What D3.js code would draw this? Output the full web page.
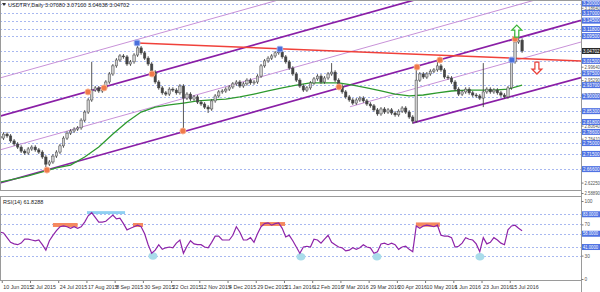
<!DOCTYPE html>
<html><head><meta charset="utf-8">
<script src="https://cdn.jsdelivr.net/npm/d3@7"></script>
<style>body{margin:0;background:#fff}svg{display:block;font-family:"Liberation Sans",Arial,sans-serif}</style>
</head><body><svg id="c" width="600" height="292"></svg>
<script>
// ---- data (price closes every 2 daily bars) ----
const closes=[2.766,2.779,2.773,2.757,2.747,2.737,2.724,2.718,2.731,2.737,
2.728,2.721,2.705,2.682,2.689,2.708,2.721,2.741,2.766,2.782,
2.789,2.795,2.799,2.824,2.850,2.889,2.921,2.928,2.918,2.928,
2.947,2.973,2.999,3.018,3.031,3.028,3.005,3.012,3.034,3.057,
3.041,3.024,3.005,2.979,2.947,2.928,2.912,2.908,2.924,2.921,
2.912,2.934,2.895,2.908,2.892,2.899,2.882,2.876,2.866,2.860,
2.886,2.902,2.915,2.918,2.924,2.931,2.941,2.947,2.934,2.941,
2.953,2.944,2.947,2.966,2.999,3.015,3.024,3.031,3.041,3.044,
3.028,3.012,2.992,2.973,2.953,2.934,2.921,2.928,2.944,2.957,
2.966,2.947,2.960,2.973,2.979,2.953,2.934,2.915,2.899,2.889,
2.879,2.889,2.895,2.886,2.876,2.870,2.857,2.844,2.860,2.850,
2.857,2.847,2.841,2.853,2.863,2.850,2.834,2.821,2.953,2.973,
2.963,2.973,2.982,2.986,2.999,2.986,2.963,2.960,2.947,2.924,
2.908,2.915,2.924,2.912,2.905,2.902,2.895,2.915,2.924,2.915,
2.921,2.912,2.905,2.899,2.928,3.012,3.076,3.082,3.047];
// [point index, high, low] for long wicks
const spikes=[[13,null,2.663],[26,3.012,null],[39,3.073,null],[52,null,2.789],[59,null,2.847],
[79,3.053,null],[94,3.008,null],[117,null,2.812],[118,2.995,null],[124,3.018,null],[137,3.008,2.866],[146,3.105,null]];
// moving average, one value every 8 bars
const maValues=[2.624,2.634,2.644,2.657,2.670,2.679,2.705,2.737,2.779,2.818,
2.850,2.866,2.873,2.879,2.886,2.889,2.892,2.899,2.908,2.918,
2.928,2.937,2.944,2.944,2.944,2.937,2.928,2.918,2.908,2.902,
2.905,2.912,2.918,2.921,2.921,2.921,2.924,2.937];
// RSI(14), every 2 bars
const rsiValues=[60,59,53,47,45,44,46,51,51,50,
49,50,44,37,49,56,62,67,68,67,
65,67,65,67,73,81,85,79,73,73,
74,78,82,77,78,71,63,65,67,69,
67,58,44,33,37,44,38,40,41,40,
46,50,33,42,49,45,44,44,41,40,
47,55,55,50,50,50,56,67,60,50,
50,53,47,58,67,71,72,69,71,72,
65,54,56,49,41,33,41,42,41,51,
50,46,51,56,47,44,41,40,36,37,
40,38,40,44,41,40,33,35,45,46,
44,46,44,38,41,42,38,35,68,65,
68,69,68,67,69,56,55,55,53,41,
42,46,53,51,50,45,35,53,45,47,
53,50,46,44,63,68,69,65,62];
const levels=[3.200,3.170,3.145,3.118,3.095,3.015,2.975,2.937,2.900,2.853,2.818,2.786,2.750,2.715,2.666];
const scaleTicks=[3.18640,2.99640,2.95290,2.90570,2.80640,2.76410,2.62250,2.58890];
const currentPrice=3.04702;
const dateLabels=["10 Jun 2015","2 Jul 2015","24 Jul 2015","17 Aug 2015","8 Sep 2015","30 Sep 2015","22 Oct 2015","12 Nov 2015","4 Dec 2015","29 Dec 2015","21 Jan 2016","12 Feb 2016","7 Mar 2016","29 Mar 2016","20 Apr 2016","10 May 2016","1 Jun 2016","23 Jun 2016","15 Jul 2016"];
const dateBars=dateLabels.map((d,i)=>1+16*i);
// trend lines [bar0, price0, bar1, price1, kind]
const trendLines=[[0,2.960,329.4,3.485,"thin"],[0,2.837,329.4,3.362,"thick"],[0,2.728,329.4,3.253,"thin"],
[0,2.621,329.4,3.146,"thick"],[198.4,2.867,329.4,3.076,"thin"],[234.1,2.815,329.4,2.961,"thick"],[77.7,3.073,329.4,3.015,"red"]];
const orangeDots=[[26.6,2.663],[49.9,2.915],[59,2.928],[86.2,2.973],[103.7,2.789],[192.2,2.931],[236.4,2.995],[249.4,3.018],[292,3.086]];
const blueDots=[[77.7,3.073],[158.7,3.053],[290.2,3.018]];
const upArrow=[293,3.111], downArrow=[304.4,2.992];
const rsiLevels=[83,58,41], rsiGrid=[70,30], rsiAxisTicks=[100,70,30,0];
const rsiBars=[[30,44,71.8,66.7,"o"],[49.3,70.9,87,83.3,"b"],[75.4,81.1,71.8,66.7,"o"],[147.4,161.6,73,68,"o"],[235.8,249.4,72.5,67,"o"]];
const rsiCircles=[[86.7,29.5],[170.6,28.5],[213.7,28.5],[272.1,28.5]];

// ---- drawing ----
const PR=581;
const svg=d3.select('#c');
const x=d3.scaleLinear().domain([0,329.4]).range([0,PR]);
const y=d3.scaleLinear().domain([2.5986,3.2115]).range([190,0]);
const yr=d3.scaleLinear().domain([0,100]).range([279,201]);
const defs=svg.append('defs');
defs.append('clipPath').attr('id','cm').append('rect').attr('x',0).attr('y',1).attr('width',PR).attr('height',189);
defs.append('clipPath').attr('id','cr').append('rect').attr('x',0).attr('y',197).attr('width',PR).attr('height',84);
const gm=svg.append('g').attr('clip-path','url(#cm)');
const gr=svg.append('g').attr('clip-path','url(#cr)');
const gridCol="#a8b8f0";
// level lines
gm.selectAll('line.lv').data(levels.concat([currentPrice])).join('line')
 .attr('x1',0).attr('x2',PR).attr('y1',d=>Math.round(y(d))+0.5).attr('y2',d=>Math.round(y(d))+0.5)
 .attr('stroke',gridCol).attr('stroke-dasharray','2,2');
// trend lines
const styles={thin:["#c892d8",1],thick:["#8a1fa6",1.7],red:["#f0413a",1.5]};
gm.selectAll('line.tl').data(trendLines).join('line')
 .attr('x1',d=>x(d[0])).attr('y1',d=>y(d[1])).attr('x2',d=>x(d[2])).attr('y2',d=>y(d[3]))
 .attr('stroke',d=>styles[d[4]][0]).attr('stroke-width',d=>styles[d[4]][1]);
// MA
gm.append('path').datum(maValues).attr('fill','none').attr('stroke','#2e9a2e').attr('stroke-width',1.3)
 .attr('d',d3.line().x((d,j)=>x(8*j)).y(d=>y(d)));
// candles
const spk={}; spikes.forEach(s=>spk[s[0]]=s);
const candles=closes.map((c,k)=>{const o=k>0?closes[k-1]:c+0.005;let h=Math.max(o,c)+0.006,l=Math.min(o,c)-0.006;
 if(spk[k]){if(spk[k][1]!=null)h=spk[k][1];if(spk[k][2]!=null)l=spk[k][2];}return{i:2*k,o,c,h,l};});
const cg=gm.selectAll('g.cd').data(candles).join('g');
cg.append('line').attr('x1',d=>x(d.i)).attr('x2',d=>x(d.i)).attr('y1',d=>y(d.h)).attr('y2',d=>y(d.l)).attr('stroke','#444').attr('stroke-width',0.9);
cg.append('rect').attr('x',d=>x(d.i)-1.2).attr('width',2.4).attr('y',d=>y(Math.max(d.o,d.c)))
 .attr('height',d=>Math.max(0.8,Math.abs(y(d.o)-y(d.c)))).attr('fill',d=>d.c>=d.o?'#cfcfcf':'#444').attr('stroke','#444').attr('stroke-width',0.5);
// dots
gm.selectAll('circle.od').data(orangeDots).join('circle').attr('cx',d=>x(d[0])).attr('cy',d=>y(d[1])).attr('r',3)
 .attr('fill','#f07a4a').attr('stroke','#f8b090').attr('stroke-width',1);
gm.selectAll('rect.bd').data(blueDots).join('rect').attr('x',d=>x(d[0])-2.8).attr('y',d=>y(d[1])-2.8).attr('width',5.6).attr('height',5.6).attr('rx',1.5)
 .attr('fill','#4a6fdc').attr('stroke','#9cb0ee').attr('stroke-width',1);
// arrows
const arrowPath="M0,-6L5,-1L2,-1L2,6L-2,6L-2,-1L-5,-1Z";
gm.append('path').attr('d',arrowPath).attr('transform',`translate(${x(upArrow[0])},${y(upArrow[1])})`).attr('fill','#fff').attr('stroke','#36b536').attr('stroke-width',1.2);
gm.append('path').attr('d',arrowPath).attr('transform',`translate(${x(downArrow[0])},${y(downArrow[1])}) rotate(180)`).attr('fill','#fff').attr('stroke','#e8403a').attr('stroke-width',1.2);

// RSI panel
gr.selectAll('line.rl').data(rsiLevels.concat(rsiGrid)).join('line')
 .attr('x1',0).attr('x2',PR).attr('y1',d=>Math.round(yr(d))+0.5).attr('y2',d=>Math.round(yr(d))+0.5)
 .attr('stroke',gridCol).attr('stroke-dasharray','2,2');
gr.selectAll('rect.rb').data(rsiBars).join('rect').attr('x',d=>x(d[0])).attr('width',d=>x(d[1])-x(d[0]))
 .attr('y',d=>yr(d[2])).attr('height',d=>yr(d[3])-yr(d[2])).attr('fill',d=>d[4]==='o'?'#f5895f':'#8fd0f2');
gr.selectAll('ellipse.rc').data(rsiCircles).join('ellipse').attr('cx',d=>x(d[0])).attr('cy',d=>yr(d[1])).attr('rx',4.5).attr('ry',3.8).attr('fill','#a9dcea');
gr.append('path').datum(rsiValues).attr('fill','none').attr('stroke','#8e24a8').attr('stroke-width',1.2)
 .attr('d',d3.line().x((d,k)=>x(2*k)).y(d=>yr(d)));

// frames
const fr=svg.append('g').attr('fill','none').attr('stroke','#9a9a9a');
fr.append('rect').attr('x',0.5).attr('y',0.5).attr('width',PR).attr('height',190);
fr.append('rect').attr('x',0.5).attr('y',196.5).attr('width',PR).attr('height',84);
fr.append('line').attr('x1',PR+0.5).attr('x2',PR+0.5).attr('y1',0).attr('y2',292);

// price axis (grey)
const pa=svg.append('g').attr('transform',`translate(${PR+0.5},0)`)
 .call(d3.axisRight(y).tickValues(scaleTicks).tickSize(2).tickFormat(d3.format('.5f')));
pa.select('.domain').remove();
pa.selectAll('text').attr('font-size',4.6).attr('fill','#555').attr('x',3).attr('textLength',15.5).attr('lengthAdjust','spacingAndGlyphs');
pa.selectAll('line').attr('stroke','#777');
// level labels
function tag(g,yy,txt,bg,w){g.append('rect').attr('x',PR+1).attr('y',yy-3).attr('width',19).attr('height',6).attr('fill',bg);
 g.append('text').attr('x',PR+2).attr('y',yy+1.7).attr('font-size',4.8).attr('fill','#fff').attr('textLength',w||16.5).attr('lengthAdjust','spacingAndGlyphs').text(txt);}
const lg=svg.append('g');
levels.forEach(v=>tag(lg,y(v),d3.format('.5f')(v),'#4f72e3'));
tag(lg,y(currentPrice),d3.format('.5f')(currentPrice),'#2a2a2a');
// RSI axis
const ra=svg.append('g').attr('transform',`translate(${PR+0.5},0)`)
 .call(d3.axisRight(yr).tickValues(rsiAxisTicks).tickSize(2));
ra.select('.domain').remove();
ra.selectAll('text').attr('font-size',4.8).attr('fill','#555').attr('x',3);
ra.selectAll('line').attr('stroke','#777');
rsiLevels.forEach(v=>tag(lg,yr(v),d3.format('.4f')(v),'#4f72e3',15));

// date axis
const da=svg.append('g').attr('transform','translate(0,281)')
 .call(d3.axisBottom(x).tickValues(dateBars).tickSize(2).tickFormat((d,i)=>dateLabels[i]));
da.select('.domain').remove();
da.selectAll('line').attr('stroke','#777');
da.selectAll('text').attr('font-size',5.3).attr('fill','#333').attr('text-anchor','start').attr('x',1).attr('dy','0.5em');

// titles
svg.append('path').attr('d','M2,3L6,3L4,6Z').attr('fill','#333');
svg.append('text').attr('x',8).attr('y',7).attr('font-size',5.5).attr('fill','#222')
 .text('USDTRY,Daily  3.07080 3.07100 3.04638 3.04702');
svg.append('text').attr('x',3).attr('y',204).attr('font-size',5.5).attr('fill','#222').text('RSI(14) 61.8288');
</script></body></html>
